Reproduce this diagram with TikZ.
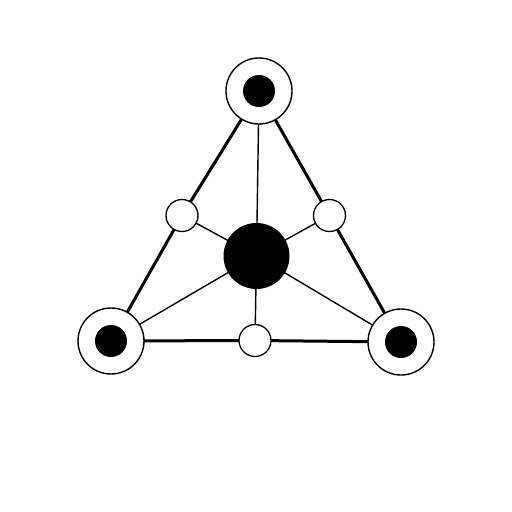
\documentclass[tikz,border=0pt]{standalone}
\begin{document}
\begin{tikzpicture}[x=1pt,y=-1pt,
  outer/.style={circle,draw=black,fill=white,line width=1.4pt,minimum size=66pt,inner sep=0pt},
  core/.style={circle,fill=black,minimum size=32pt,inner sep=0pt},
  small/.style={circle,draw=black,fill=white,line width=1.3pt,minimum size=32pt,inner sep=0pt},
  hub/.style={circle,fill=black,minimum size=66pt,inner sep=0pt},
  thickedge/.style={line width=3pt},
  thinedge/.style={line width=1.4pt}]
\useasboundingbox (0,0) rectangle (512,512);
\coordinate (T) at (259,91);
\coordinate (L) at (111,341);
\coordinate (R) at (401,342);
\coordinate (C) at (256.5,256);
\coordinate (SL) at (182,215.5);
\coordinate (SR) at (329.5,215.5);
\coordinate (SB) at (255,340.5);
% edges
\draw[thickedge] (T) -- (SL) -- (L);
\draw[thickedge] (T) -- (SR) -- (R);
\draw[thickedge] (L) -- (SB) -- (R);
\draw[thinedge] (C) -- (T);
\draw[thinedge] (C) -- (L);
\draw[thinedge] (C) -- (R);
\draw[thinedge] (C) -- (SL);
\draw[thinedge] (C) -- (SR);
\draw[thinedge] (C) -- (SB);
% nodes
\node[outer] (nT) at (T) {};
\node[core] (cT) at (T) {};
\node[outer] (nL) at (L) {};
\node[core] (cL) at (L) {};
\node[outer] (nR) at (R) {};
\node[core] (cR) at (R) {};
\node[hub] (nC) at (C) {};
\node[small] (nSL) at (SL) {};
\node[small] (nSR) at (SR) {};
\node[small] (nSB) at (SB) {};
\end{tikzpicture}
\end{document}
